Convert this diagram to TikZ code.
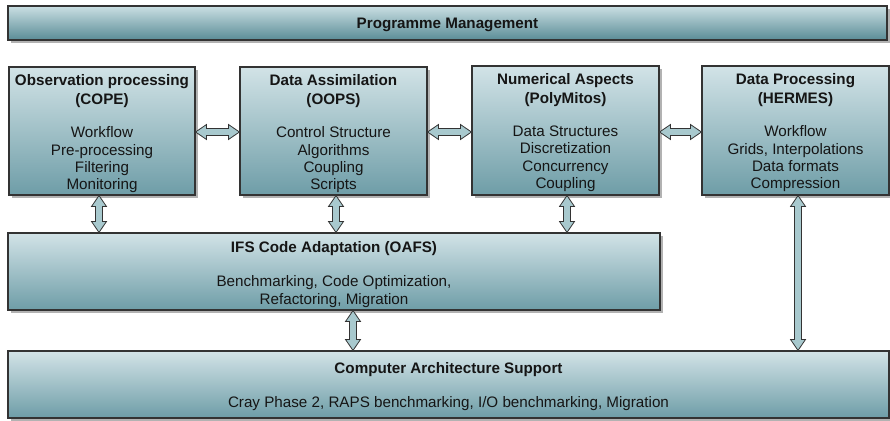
\documentclass[tikz,border=0pt]{standalone}
\usepackage{fontspec}
\setmainfont{Liberation Sans}
\usetikzlibrary{shadows,calc}
\definecolor{boxtop}{HTML}{D2E3E7}
\definecolor{boxbot}{HTML}{6E9DA7}
\definecolor{bartop}{HTML}{CADFE3}
\definecolor{barbot}{HTML}{5A8C96}
\definecolor{arrfill}{HTML}{A8C9CE}
\definecolor{edge}{HTML}{333333}
\definecolor{txt}{HTML}{151515}
\tikzset{
  box/.style={draw=edge, line width=1.1pt, top color=boxtop, bottom color=boxbot,
    inner sep=0pt, drop shadow={shadow xshift=3pt, shadow yshift=-3pt, fill=black!30, opacity=1}},
  bar/.style={box, top color=bartop, bottom color=barbot},
  ttl/.style={font=\fontsize{15.2}{19}\selectfont\bfseries, text=txt, align=center, inner sep=0pt},
  body/.style={font=\fontsize{15.2}{17.4}\selectfont, text=txt, align=center, inner sep=0pt},
  blockarrow/.style={draw=edge, line width=0.8pt, fill=arrfill, line join=miter},
}
\newcommand\vdarrow[2]{%
  \draw[blockarrow] let \p1=(#1), \p2=(#2) in
   (\x1,\y1) -- (\x1+7.5pt,\y1-11pt) -- (\x1+3.5pt,\y1-11pt) -- (\x1+3.5pt,\y2+11pt)
   -- (\x1+7.5pt,\y2+11pt) -- (\x1,\y2) -- (\x1-7.5pt,\y2+11pt) -- (\x1-3.5pt,\y2+11pt)
   -- (\x1-3.5pt,\y1-11pt) -- (\x1-7.5pt,\y1-11pt) -- cycle;}
\newcommand\hdarrow[2]{%
  \draw[blockarrow] let \p1=(#1), \p2=(#2) in
   (\x1,\y1) -- (\x1+11pt,\y1+7.5pt) -- (\x1+11pt,\y1+3.5pt) -- (\x2-11pt,\y1+3.5pt)
   -- (\x2-11pt,\y1+7.5pt) -- (\x2,\y1) -- (\x2-11pt,\y1-7.5pt) -- (\x2-11pt,\y1-3.5pt)
   -- (\x1+11pt,\y1-3.5pt) -- (\x1+11pt,\y1-7.5pt) -- cycle;}
\begin{document}
\begin{tikzpicture}[x=1pt,y=-1pt]
\useasboundingbox (0,0) rectangle (890,420);
% boxes
\node[bar, minimum width=879pt, minimum height=34pt] (pm) at (447.5,23) {};
\node[box, minimum width=186pt, minimum height=128pt] (cope) at (102,131) {};
\node[box, minimum width=187pt, minimum height=128pt] (oops) at (333.5,131) {};
\node[box, minimum width=187pt, minimum height=129pt] (poly) at (565.5,130.5) {};
\node[box, minimum width=187pt, minimum height=129pt] (hermes) at (795.5,130.5) {};
\node[box, minimum width=652pt, minimum height=77pt] (oafs) at (334,271.5) {};
\node[box, minimum width=881pt, minimum height=67pt] (cas) at (448.5,384.5) {};
% texts
\node[ttl] (pmt) at ($(pm.center)+(0,2)$) {Programme Management};
\node[ttl] (copet) at ($(cope.north)+(0,24.5)$) {Observation processing\\(COPE)};
\node[body] (copeb) at ($(cope.north)+(0,93.5)$) {Workflow\\Pre-processing\\Filtering\\Monitoring};
\node[ttl] (oopst) at ($(oops.north)+(0,24.5)$) {Data Assimilation\\(OOPS)};
\node[body] (oopsb) at ($(oops.north)+(0,93.5)$) {Control Structure\\Algorithms\\Coupling\\Scripts};
\node[ttl] (polyt) at ($(poly.north)+(0,24.5)$) {Numerical Aspects\\(PolyMitos)};
\node[body] (polyb) at ($(poly.north)+(0,93.5)$) {Data Structures\\Discretization\\Concurrency\\Coupling};
\node[ttl] (hermest) at ($(hermes.north)+(0,24.5)$) {Data Processing\\(HERMES)};
\node[body] (hermesb) at ($(hermes.north)+(0,93.5)$) {Workflow\\Grids, Interpolations\\Data formats\\Compression};
\node[ttl] (oafst) at ($(oafs.north)+(0,16.5)$) {IFS Code Adaptation (OAFS)};
\node[body] (oafsb) at ($(oafs.north)+(0,59)$) {Benchmarking, Code Optimization,\\Refactoring, Migration};
\node[ttl] (cast) at ($(cas.north)+(0,19)$) {Computer Architecture Support};
\node[body] (casb) at ($(cas.north)+(0,53)$) {Cray Phase 2, RAPS benchmarking, I/O benchmarking, Migration};
% arrow reference coordinates
\coordinate (hy) at (0,132);
\coordinate (ax1) at (99,0);
\coordinate (ax2) at (336,0);
\coordinate (ax3) at (567,0);
\coordinate (ax4) at (798,0);
\coordinate (ax5) at (353,0);
% horizontal arrows
\hdarrow{cope.east |- hy}{oops.west |- hy}
\hdarrow{oops.east |- hy}{poly.west |- hy}
\hdarrow{poly.east |- hy}{hermes.west |- hy}
% vertical arrows
\vdarrow{cope.south -| ax1}{oafs.north -| ax1}
\vdarrow{oops.south -| ax2}{oafs.north -| ax2}
\vdarrow{poly.south -| ax3}{oafs.north -| ax3}
\vdarrow{hermes.south -| ax4}{cas.north -| ax4}
\vdarrow{oafs.south -| ax5}{cas.north -| ax5}
\end{tikzpicture}
\end{document}
